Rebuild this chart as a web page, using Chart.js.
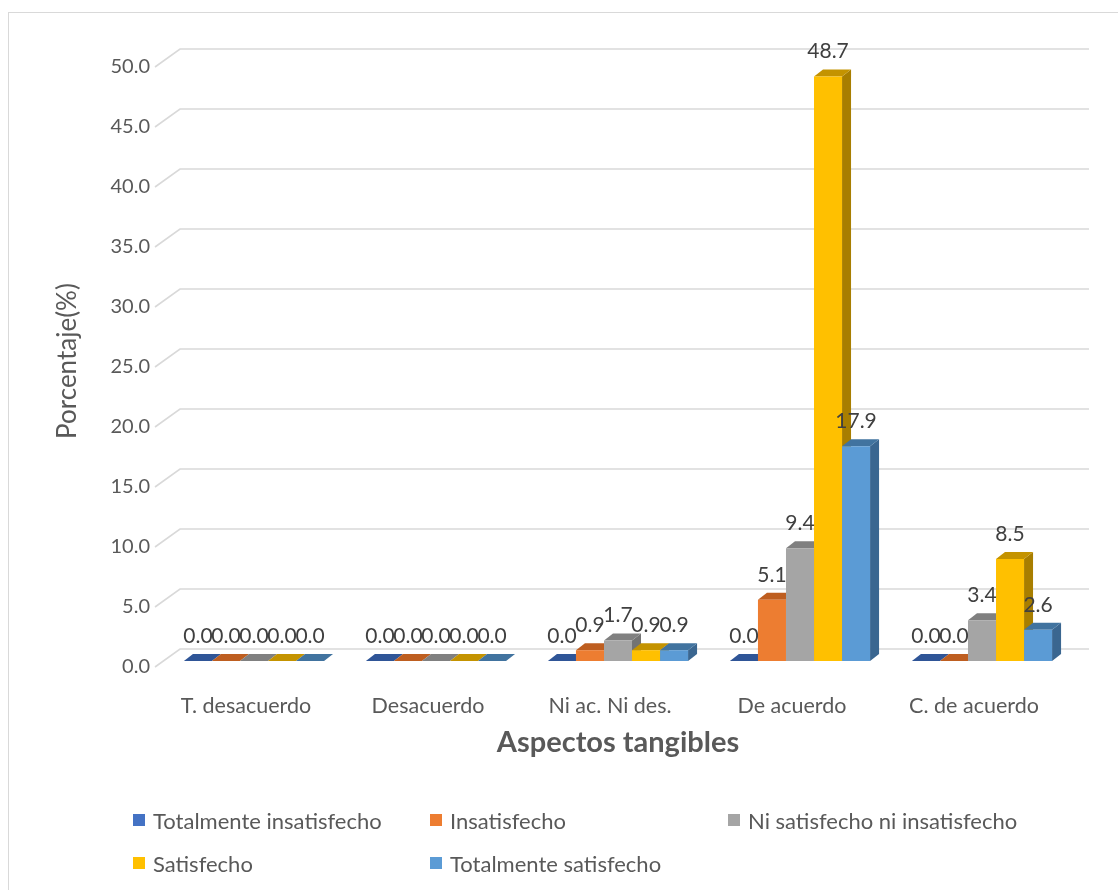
<!DOCTYPE html>
<html>
<head>
<meta charset="utf-8">
<title>Aspectos tangibles</title>
<script src="https://cdn.jsdelivr.net/npm/chart.js@4.4.1/dist/chart.umd.min.js"></script>
<style>
  html, body { margin: 0; padding: 0; background: #ffffff; }
  #wrap { position: relative; width: 1118px; height: 890px; overflow: hidden; font-family: Lato, "Open Sans", sans-serif; }
  #frame { position: absolute; left: 8px; top: 12px; width: 1200px; height: 1000px; border: 1px solid #D9D9D9; box-sizing: border-box; }
  #chart { position: absolute; left: 0; top: 0; }
  .leg { position: absolute; display: flex; align-items: center; font-size: 22px; color: #595959; white-space: nowrap; }
  .leg i { display: inline-block; width: 12px; height: 12px; margin-right: 8px; }
</style>
</head>
<body>
<div id="wrap">
  <div id="frame"></div>
  <canvas id="chart" width="1118" height="890"></canvas>
  <div id="legend"></div>
</div>
<script>
// Categories and series (percentages)
const categories = ['T. desacuerdo', 'Desacuerdo', 'Ni ac. Ni des.', 'De acuerdo', 'C. de acuerdo'];
const seriesNames = ['Totalmente insatisfecho', 'Insatisfecho', 'Ni satisfecho ni insatisfecho', 'Satisfecho', 'Totalmente satisfecho'];
const totalmenteInsatisfecho = [0.0, 0.0, 0.0, 0.0, 0.0];
const insatisfecho = [0.0, 0.0, 0.9, 5.1, 0.0];
const niSatisfechoNiInsatisfecho = [0.0, 0.0, 1.7, 9.4, 3.4];
const satisfecho = [0.0, 0.0, 0.9, 48.7, 8.5];
const totalmenteSatisfecho = [0.0, 0.0, 0.9, 17.9, 2.6];
const yTicks = [0, 5, 10, 15, 20, 25, 30, 35, 40, 45, 50];

// Face colours: front, top, side
const frontColors = ['#4472C4', '#ED7D31', '#A5A5A5', '#FFC000', '#5B9BD5'];
const topColors   = ['#2F5597', '#BE5E20', '#808080', '#C49300', '#41739F'];
const sideColors  = ['#2E5088', '#A9561C', '#737373', '#A87E00', '#3A6690'];

const seriesValues = [totalmenteInsatisfecho, insatisfecho, niSatisfechoNiInsatisfecho, satisfecho, totalmenteSatisfecho];

// Depth of each bar and offsets of the front and back wall planes
const BAR_DX = 9, BAR_DY = 7;
const FRONT_DX = -8, FRONT_DY = 6;
const BACK_DX = 17, BACK_DY = -12;

const walls3d = {
  id: 'walls3d',
  beforeDatasetsDraw(chart) {
    const { ctx, chartArea: a } = chart;
    const y = chart.scales.y;
    ctx.save();
    ctx.strokeStyle = '#D9D9D9';
    ctx.lineWidth = 1.6;
    yTicks.forEach(v => {
      const py = y.getPixelForValue(v);
      ctx.beginPath();
      ctx.moveTo(a.left + FRONT_DX, py + FRONT_DY);
      ctx.lineTo(a.left + BACK_DX, py + BACK_DY);
      ctx.lineTo(a.right + BACK_DX - 1, py + BACK_DY);
      ctx.stroke();
    });
    // top and side faces, painted left to right inside each category
    for (let i = 0; i < categories.length; i++) {
      chart.data.datasets.forEach((ds, d) => {
        const bar = chart.getDatasetMeta(d).data[i];
        const p = bar.getProps(['x', 'y', 'base', 'width'], true);
        const l = p.x - p.width / 2, r = p.x + p.width / 2;
        const t = Math.min(p.y, p.base), b = p.base;
        // side face
        ctx.fillStyle = sideColors[d];
        ctx.beginPath();
        ctx.moveTo(r, t); ctx.lineTo(r + BAR_DX, t - BAR_DY);
        ctx.lineTo(r + BAR_DX, b - BAR_DY); ctx.lineTo(r, b);
        ctx.closePath(); ctx.fill();
        // top face
        ctx.fillStyle = topColors[d];
        ctx.beginPath();
        ctx.moveTo(l, t); ctx.lineTo(l + BAR_DX, t - BAR_DY);
        ctx.lineTo(r + BAR_DX, t - BAR_DY); ctx.lineTo(r, t);
        ctx.closePath(); ctx.fill();
      });
    }
    ctx.restore();
  },
  afterDatasetsDraw(chart) {
    const { ctx } = chart;
    ctx.save();
    ctx.font = '21px Lato, "Open Sans", sans-serif';
    ctx.fillStyle = '#404040';
    ctx.textAlign = 'center';
    ctx.textBaseline = 'middle';
    chart.data.datasets.forEach((ds, d) => {
      chart.getDatasetMeta(d).data.forEach((bar, i) => {
        ctx.fillText(ds.data[i].toFixed(1), bar.x, bar.y - 25);
      });
    });
    ctx.restore();
  }
};

new Chart(document.getElementById('chart'), {
  type: 'bar',
  data: {
    labels: categories,
    datasets: seriesNames.map((name, d) => ({
      label: name,
      data: seriesValues[d],
      backgroundColor: frontColors[d],
      borderWidth: 0,
      categoryPercentage: 0.77,
      barPercentage: 1.0
    }))
  },
  options: {
    responsive: false,
    animation: false,
    devicePixelRatio: 1,
    layout: { padding: { left: 0, right: 45, top: 61, bottom: 129 } },
    plugins: { legend: { display: false }, tooltip: { enabled: false } },
    scales: {
      x: {
        grid: { display: false },
        border: { display: false },
        ticks: { color: '#595959', font: { family: 'Lato', size: 21.5 }, padding: 24, labelOffset: -8, maxRotation: 0 },
        title: { display: true, text: 'Aspectos tangibles', color: '#595959', font: { family: 'Lato', size: 29, weight: 'bold' }, padding: { top: 0, bottom: 1 } },
        afterFit(scale) { scale.height = 100; }
      },
      y: {
        min: 0, max: 50,
        grid: { display: false, drawTicks: false },
        border: { display: false },
        ticks: {
          stepSize: 5, color: '#595959', font: { family: 'Lato', size: 20 }, padding: 13, labelOffset: 6,
          callback: v => Number(v).toFixed(1)
        },
        title: { display: true, text: 'Porcentaje(%)', color: '#595959', font: { family: 'Lato', size: 26 }, padding: { top: 52, bottom: 0 } },
        afterFit(scale) { scale.width = 163; }
      }
    }
  },
  plugins: [walls3d]
});

// Legend laid out in three fixed columns
const legendPos = [[133, 820], [430, 820], [728, 820], [133, 863], [430, 863]];
const legendEl = document.getElementById('legend');
seriesNames.forEach((name, d) => {
  const item = document.createElement('div');
  item.className = 'leg';
  item.style.left = legendPos[d][0] + 'px';
  item.style.top = (legendPos[d][1] - 13) + 'px';
  item.style.height = '26px';
  const sw = document.createElement('i');
  sw.style.background = frontColors[d];
  item.appendChild(sw);
  item.appendChild(document.createTextNode(name));
  legendEl.appendChild(item);
});
</script>
</body>
</html>
